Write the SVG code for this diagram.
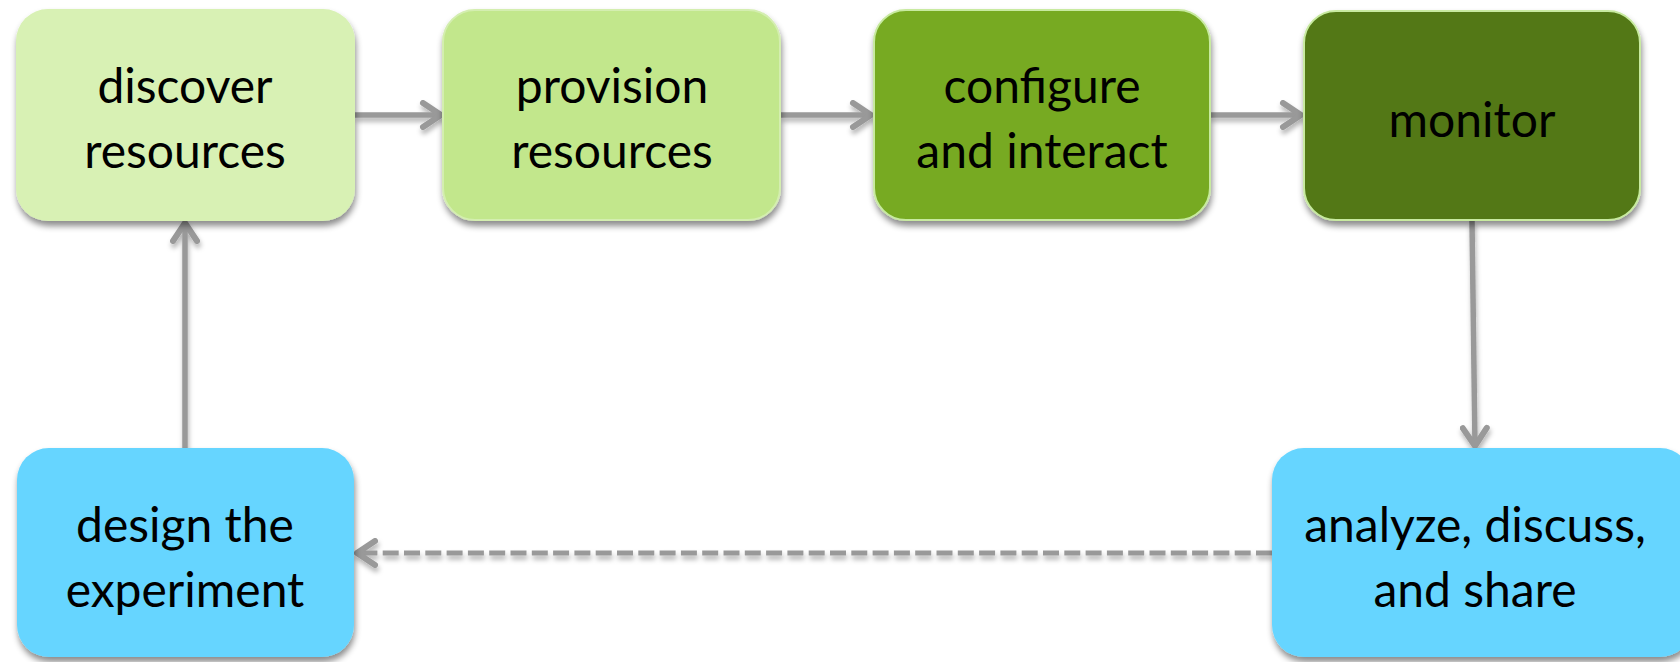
<svg xmlns="http://www.w3.org/2000/svg" width="1680" height="662" viewBox="0 0 1680 662">
<defs>
<filter id="sh" x="-10%" y="-10%" width="130%" height="140%">
<feDropShadow dx="1" dy="5" stdDeviation="3" flood-color="#000" flood-opacity="0.45"/>
</filter>
<filter id="ash" x="-20%" y="-50%" width="140%" height="250%">
<feDropShadow dx="1" dy="4" stdDeviation="2.5" flood-color="#000" flood-opacity="0.3"/>
</filter>
<marker id="arr" viewBox="0 0 26 30" refX="22" refY="15" markerWidth="26" markerHeight="30" markerUnits="userSpaceOnUse" orient="auto">
<path d="M4 3 L22 15 L4 27" fill="none" stroke="#999999" stroke-width="6" stroke-linecap="round" stroke-linejoin="round"/>
</marker>
</defs>
<style>
.box{filter:url(#sh)}
.lbl{font-family:Lato,"Open Sans","Liberation Sans",sans-serif;font-size:48px;fill:#000;text-anchor:middle}
.c{fill:none;stroke:#999999;stroke-width:5.5;marker-end:url(#arr)}
.d{stroke-dasharray:16 5.3;stroke-width:5}
</style>
<rect width="1680" height="662" fill="#ffffff"/>
<g id="connectors" filter="url(#ash)">
<line class="c" x1="355" y1="115" x2="441" y2="115"/>
<line class="c" x1="781" y1="115" x2="871" y2="115"/>
<line class="c" x1="1210" y1="115" x2="1301" y2="115"/>
<line class="c" x1="1472" y1="221" x2="1475" y2="446"/>
<line class="c d" x1="1272" y1="553" x2="357" y2="553"/>
<line class="c" x1="185" y1="448" x2="185" y2="223"/>
</g>
<g id="discover">
<rect class="box" x="16" y="9" width="339" height="212" rx="32" fill="#d8f1b4"/>
<text class="lbl" x="185" y="103">discover</text>
<text class="lbl" x="185" y="168">resources</text>
</g>
<g id="provision">
<rect class="box" x="443" y="10" width="337" height="210" rx="32" fill="#c2e78c" stroke="#d4eeb0" stroke-width="2"/>
<text class="lbl" x="612" y="103">provision</text>
<text class="lbl" x="612" y="168">resources</text>
</g>
<g id="configure">
<rect class="box" x="874" y="10" width="336" height="210" rx="32" fill="#77aa24" stroke="#c8eaa0" stroke-width="2"/>
<text class="lbl" x="1042" y="103">configure</text>
<text class="lbl" x="1042" y="168">and interact</text>
</g>
<g id="monitor">
<rect class="box" x="1304" y="11" width="336" height="209" rx="32" fill="#527817" stroke="#c8eaa0" stroke-width="2"/>
<text class="lbl" x="1472" y="137">monitor</text>
</g>
<g id="analyze">
<rect class="box" x="1272" y="448" width="420" height="209" rx="32" fill="#66d5ff"/>
<text class="lbl" x="1475" y="542">analyze, discuss,</text>
<text class="lbl" x="1475" y="607">and share</text>
</g>
<g id="design">
<rect class="box" x="17" y="448" width="337" height="209" rx="32" fill="#66d5ff"/>
<text class="lbl" x="185" y="542">design the</text>
<text class="lbl" x="185" y="607">experiment</text>
</g>
</svg>
